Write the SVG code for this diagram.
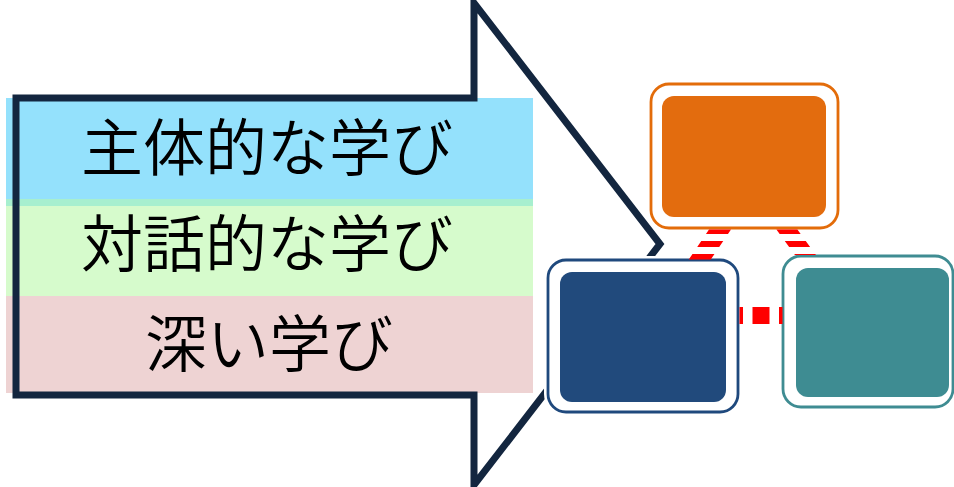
<svg xmlns="http://www.w3.org/2000/svg" width="954" height="487" viewBox="0 0 954 487">
  <style>
    .band-text { font-family: "Noto Sans CJK JP", "Noto Sans", sans-serif; font-size: 62px; font-weight: 350; fill: #000000; text-anchor: middle; }
    .halo { fill: #ffffff; stroke: #ffffff; stroke-width: 8; }
    .outer { fill: #ffffff; stroke-width: 2.8; }
    .conn { stroke: #ff0000; fill: none; }
  </style>
  <rect x="0" y="0" width="954" height="487" fill="#ffffff"/>

  <g id="bands">
    <rect x="6" y="98" width="527" height="102" fill="#94e1fc"/>
    <rect x="6" y="199" width="527" height="7" fill="#a7efcf"/>
    <rect x="6" y="206" width="527" height="90" fill="#d6fbcc"/>
    <rect x="6" y="296" width="527" height="97" fill="#eed3d3"/>
  </g>

  <g id="arrow">
    <path d="M474,98 L474,3 L660,244 L474,485 L474,395 L16,395 L16,98 Z" fill="none" stroke="#13263f" stroke-width="7" stroke-linejoin="miter"/>
  </g>

  <g id="labels">
    <text class="band-text" x="267" y="171">主体的な学び</text>
    <text class="band-text" x="267" y="267">対話的な学び</text>
    <text class="band-text" x="269" y="367">深い学び</text>
  </g>

  <g id="node-orange">
    <rect class="halo" x="651" y="84" width="187" height="144" rx="18"/>
    <rect class="outer" x="651" y="84" width="187" height="144" rx="18" stroke="#e36c0a"/>
    <rect x="662" y="96" width="164" height="121" rx="12" fill="#e36c0e"/>
  </g>

  <g id="node-blue">
    <rect class="halo" x="548" y="260" width="190" height="152" rx="18"/>
    <rect class="outer" x="548" y="260" width="190" height="152" rx="18" stroke="#1f497d"/>
    <rect x="560" y="272" width="166" height="130" rx="12" fill="#214a7c"/>
  </g>

  <g id="node-teal">
    <rect class="halo" x="783" y="256" width="170" height="151" rx="18"/>
    <rect class="outer" x="783" y="256" width="170" height="151" rx="18" stroke="#3f8c92"/>
    <rect x="796" y="268" width="153" height="129" rx="12" fill="#3e8c92"/>
  </g>

  <g id="connectors">
    <line class="conn" x1="739.5" y1="315.5" x2="782.5" y2="315.5" stroke-width="17" stroke-dasharray="17 9.5" stroke-dashoffset="13.5"/>
    <g transform="translate(719,231) skewX(-34)">
      <line class="conn" x1="0" y1="-1.5" x2="0" y2="28.5" stroke-width="22" stroke-dasharray="6 7" stroke-dashoffset="1.5"/>
    </g>
    <g transform="translate(788,231) skewX(36)">
      <line class="conn" x1="0" y1="-1.5" x2="0" y2="24" stroke-width="21" stroke-dasharray="6 7" stroke-dashoffset="1.5"/>
    </g>
  </g>
</svg>
